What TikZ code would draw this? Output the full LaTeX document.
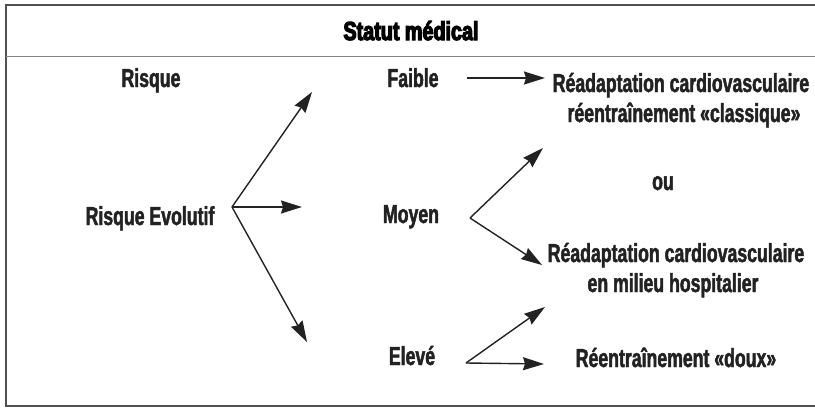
\documentclass[tikz,border=0pt]{standalone}
\usepackage{fontspec}
\setmainfont{Liberation Sans}
\newfontfamily\labelfont{Liberation Sans Bold}[FakeStretch=0.68,FakeBold=1.8]
\newfontfamily\heavyfont{Liberation Sans Bold}[FakeStretch=0.76,FakeBold=4.5]
\usepackage{tikz}
\usepackage{xcolor}
\usetikzlibrary{arrows.meta}
\definecolor{inkgray}{HTML}{222222}
\definecolor{rulegray}{HTML}{505050}

\begin{document}
\begin{tikzpicture}[x=1pt, y=-1pt,
  lbl/.style={font=\fontsize{26}{30}\labelfont, text=inkgray,
    inner sep=0pt, anchor=base},
  arr/.style={-{Stealth[length=21pt,width=13pt,inset=2pt]}, line width=1.4pt,
    draw=inkgray},
  frame/.style={line width=1.4pt, draw=rulegray}]
  \useasboundingbox (0,0) rectangle (815,410);
  % Frame and header
  \draw[frame] (815,5) -- (6,5) -- (6,406) -- (815,406);
  \draw[rulegray!70, line width=1pt] (6,56) -- (815,56);
  \node[lbl, font=\fontsize{26}{30}\heavyfont, text=black] (titre) at (411,40) {Statut médical};
  % Left column
  \node[lbl] (risque) at (151,87) {Risque};
  \node[lbl] (evol) at (150,225) {Risque Evolutif};
  % Middle column
  \node[lbl] (faible) at (413,87) {Faible};
  \node[lbl] (moyen) at (411,223) {Moyen};
  \node[lbl] (eleve) at (412,365) {Elevé};
  % Right column
  \node[lbl] (classA) at (681,92) {Réadaptation cardiovasculaire};
  \node[lbl] (classB) at (684,122) {réentraînement «classique»};
  \node[lbl] (ou) at (663,190) {ou};
  \node[lbl] (hospA) at (676,262) {Réadaptation cardiovasculaire};
  \node[lbl] (hospB) at (673,292) {en milieu hospitalier};
  \node[lbl] (doux) at (676,367) {Réentraînement «doux»};
  % Branch points and arrow tips
  \coordinate (evo) at (232,207);
  \coordinate (evoF) at (312,92);
  \coordinate (evoM) at (302,207);
  \coordinate (evoE) at (307,342);
  \coordinate (fbl) at (467,78);
  \coordinate (fblT) at (545,78);
  \coordinate (moy) at (470,218);
  \coordinate (moyU) at (543,148);
  \coordinate (moyD) at (542,265);
  \coordinate (elv) at (466,363);
  \coordinate (elvU) at (545,307);
  \coordinate (elvD) at (544,364);
  % Arrows
  \foreach \tip in {evoF,evoM,evoE} \draw[arr] (evo) -- (\tip);
  \draw[arr] (fbl) -- (fblT);
  \foreach \tip in {moyU,moyD} \draw[arr] (moy) -- (\tip);
  \foreach \tip in {elvU,elvD} \draw[arr] (elv) -- (\tip);
\end{tikzpicture}
\end{document}
